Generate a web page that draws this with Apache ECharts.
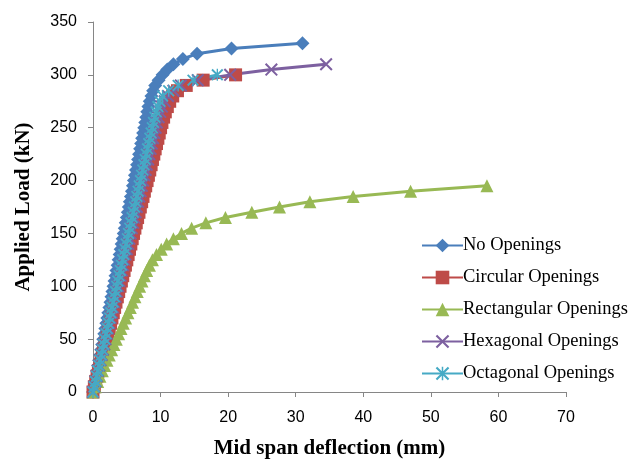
<!DOCTYPE html>
<html lang="en">
<head>
<meta charset="UTF-8">
<title>Load-deflection</title>
<script src="https://cdn.jsdelivr.net/npm/echarts@6/dist/echarts.min.js"></script>
<style>
    html, body { margin: 0; padding: 0; background: #fff; }
    #chart { width: 628px; height: 459px; }
</style>
</head>
<body>
<div id="chart"></div>
<script type="text/javascript">
// loads (kN) and mid span deflections (mm)
var loadNo = [0,5,10,15,20,25,30,35,40,45,50,55,60,65,70,75,80,85,90,95,100,105,110,115,120,125,130,135,140,145,150,155,160,165,170,175,180,185,190,195,200,205,210,215,220,225,230,235,240,245,250,255,260,265,270,275,280,285,290,295,300,305,310,315,320,325,330];
var defNo  = [0,0.15,0.3,0.45,0.61,0.76,0.91,1.06,1.21,1.36,1.52,1.67,1.82,1.97,2.12,2.27,2.42,2.58,2.73,2.88,3.03,3.18,3.33,3.48,3.64,3.79,3.94,4.09,4.24,4.39,4.55,4.7,4.85,5.0,5.15,5.3,5.45,5.61,5.76,5.91,6.06,6.21,6.36,6.52,6.67,6.82,6.97,7.12,7.27,7.42,7.58,7.73,7.88,8.03,8.2,8.4,8.65,8.9,9.2,9.7,10.3,11.0,11.9,13.3,15.4,20.5,31.0];

var loadCirc = [0,5,10,15,20,25,30,35,40,45,50,55,60,65,70,75,80,85,90,95,100,105,110,115,120,125,130,135,140,145,150,155,160,165,170,175,180,185,190,195,200,205,210,215,220,225,230,235,240,245,250,255,260,265,270,275,280,285,290,295,300];
var defCirc  = [0,0.2,0.4,0.6,0.8,1.0,1.2,1.4,1.6,1.8,2.0,2.2,2.4,2.6,2.8,3.0,3.2,3.4,3.6,3.8,4.0,4.2,4.4,4.6,4.8,5.0,5.2,5.4,5.6,5.8,6.0,6.2,6.4,6.6,6.8,7.0,7.2,7.4,7.6,7.8,8.0,8.2,8.4,8.6,8.8,9.0,9.2,9.4,9.6,9.8,10.0,10.2,10.45,10.7,11.0,11.35,11.8,12.5,13.8,16.3,21.1];

var loadRect = [0,5,10,15,20,25,30,35,40,45,50,55,60,65,70,75,80,85,90,95,100,105,110,115,120,125,130,135,140,145,150,155,160,165,170,175,180,185,190,195];
var defRect  = [0,0.34,0.69,1.03,1.38,1.72,2.07,2.41,2.76,3.1,3.45,3.79,4.14,4.48,4.83,5.17,5.52,5.86,6.21,6.55,6.9,7.25,7.6,7.95,8.35,8.8,9.4,10.1,10.9,11.9,13.1,14.6,16.7,19.6,23.5,27.6,32.1,38.5,47.0,58.3];

var loadHex = [0,5,10,15,20,25,30,35,40,45,50,55,60,65,70,75,80,85,90,95,100,105,110,115,120,125,130,135,140,145,150,155,160,165,170,175,180,185,190,195,200,205,210,215,220,225,230,235,240,245,250,255,260,265,270,275,280,285,290,295,300,305,310];
var defHex  = [0,0.19,0.37,0.56,0.74,0.93,1.11,1.3,1.48,1.67,1.85,2.04,2.22,2.41,2.59,2.78,2.96,3.15,3.33,3.52,3.7,3.89,4.07,4.26,4.44,4.63,4.81,5.0,5.19,5.37,5.56,5.74,5.93,6.11,6.3,6.48,6.67,6.85,7.04,7.22,7.41,7.59,7.78,7.96,8.15,8.33,8.52,8.7,8.89,9.07,9.26,9.45,9.7,9.95,10.2,10.6,11.1,11.9,13.0,15.5,20.3,26.4,34.5];

var loadOct = [0,5,10,15,20,25,30,35,40,45,50,55,60,65,70,75,80,85,90,95,100,105,110,115,120,125,130,135,140,145,150,155,160,165,170,175,180,185,190,195,200,205,210,215,220,225,230,235,240,245,250,255,260,265,270,275,280,285,290,295,300];
var defOct  = [0,0.18,0.35,0.53,0.7,0.88,1.05,1.23,1.4,1.58,1.75,1.93,2.11,2.28,2.46,2.63,2.81,2.98,3.16,3.33,3.51,3.68,3.86,4.04,4.21,4.39,4.56,4.74,4.91,5.09,5.26,5.44,5.61,5.79,5.96,6.14,6.32,6.49,6.67,6.84,7.02,7.19,7.37,7.54,7.72,7.89,8.07,8.25,8.42,8.6,8.77,8.95,9.15,9.35,9.6,9.9,10.3,11.2,12.6,14.8,18.4];

var seriesNames = ['No Openings', 'Circular Openings', 'Rectangular Openings', 'Hexagonal Openings', 'Octagonal Openings'];
var colors = ['#4A7EBB', '#BE4B48', '#98B954', '#7D60A0', '#46AAC5'];
var xTicks = [0, 70, 10];   // min, max, interval
var yTicks = [0, 350, 50];

function pairs(xs, ys) {
    var out = [];
    for (var i = 0; i < xs.length; i++) out.push([xs[i], ys[i]]);
    return out;
}

// Excel-like markers
var crossPath = 'path://M0,1.1L1.1,0L10,8.9L8.9,10ZM8.9,0L10,1.1L1.1,10L0,8.9Z';
var starPath = 'path://M4.45,0H5.55V10H4.45ZM0,1.1L1.1,0L10,8.9L8.9,10ZM8.9,0L10,1.1L1.1,10L0,8.9Z';

var chart = echarts.init(document.getElementById('chart'));

function mk(i, data, symbol, size) {
    return {
        name: seriesNames[i],
        type: 'line',
        data: data,
        symbol: symbol,
        symbolSize: size,
        showAllSymbol: true,
        clip: false,
        lineStyle: { width: 3, color: colors[i] },
        itemStyle: { color: colors[i] },
        emphasis: { disabled: true }
    };
}

var axisFont = { fontFamily: 'Liberation Sans', fontSize: 16, color: '#000' };
var nameFont = { fontFamily: 'Liberation Serif', fontWeight: 'bold', fontSize: 21, color: '#000' };

chart.setOption({
    animation: false,
    grid: { left: 93, right: 62, top: 22, bottom: 67, containLabel: false, outerBoundsMode: 'none' },
    xAxis: {
        type: 'value',
        min: xTicks[0], max: xTicks[1], interval: xTicks[2],
        name: 'Mid span deflection (mm)',
        nameLocation: 'middle',
        nameGap: 46,
        nameTextStyle: nameFont,
        axisLine: { show: true, lineStyle: { color: '#868686', width: 1 } },
        axisTick: { show: true, length: 5, lineStyle: { color: '#868686' } },
        axisLabel: Object.assign({ margin: 18 }, axisFont),
        splitLine: { show: false }
    },
    yAxis: {
        type: 'value',
        min: yTicks[0], max: yTicks[1], interval: yTicks[2],
        name: 'Applied Load (kN)',
        nameLocation: 'middle',
        nameGap: 59,
        nameTextStyle: nameFont,
        axisLine: { show: true, lineStyle: { color: '#868686', width: 1 } },
        axisTick: { show: true, length: 5, lineStyle: { color: '#868686' } },
        axisLabel: Object.assign({ margin: 16 }, axisFont),
        splitLine: { show: false }
    },
    legend: {
        orient: 'vertical',
        left: 416,
        top: 231,
        itemWidth: 41,
        itemHeight: 17,
        itemGap: 13,
        textStyle: { fontFamily: 'Liberation Serif', fontSize: 18.5, color: '#000', padding: [0, 0, 0, -5] },
        data: seriesNames
    },
    series: [
        mk(0, pairs(defNo, loadNo), 'diamond', 14),
        mk(1, pairs(defCirc, loadCirc), 'rect', 13),
        mk(2, pairs(defRect, loadRect), 'triangle', 13),
        mk(3, pairs(defHex, loadHex), crossPath, 13),
        mk(4, pairs(defOct, loadOct), starPath, 12)
    ]
});
</script>
</body>
</html>
